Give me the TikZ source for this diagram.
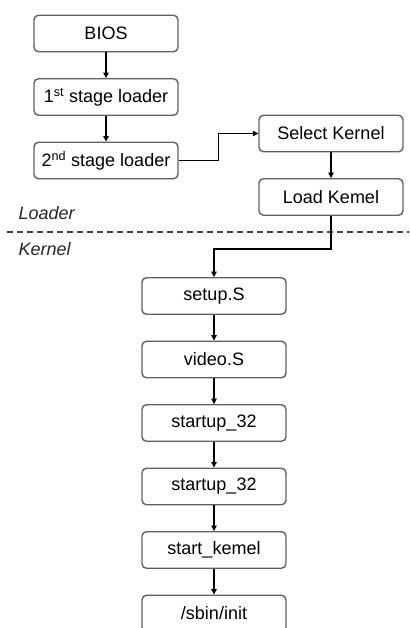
\documentclass[tikz,border=0pt]{standalone}
\usepackage{fontspec}
\setmainfont{Liberation Sans}
\usetikzlibrary{arrows.meta}
\begin{document}
\begin{tikzpicture}[x=1pt,y=-1pt,
  stage/.style={draw=black!62, line width=1.4pt, rounded corners=4.5pt, fill=white,
    minimum width=144pt, minimum height=36.5pt, inner sep=0pt,
    font=\fontsize{18}{21}\selectfont},
  flow/.style={draw=black, line width=1.2pt, -{Triangle[length=5.5pt,width=5.5pt]}},
  zone/.style={font=\fontsize{18}{21}\selectfont\itshape, anchor=west, text=black!85},
  divider/.style={draw=black!75, line width=1.1pt, dash pattern=on 6pt off 4pt}]
\clip (0,0) rectangle (409,628);
\fill[white] (0,0) rectangle (409,628);

% loader stage
\node[stage] (bios) at (106,33.5) {BIOS};
\node[stage] (first) at (106,97) {1\textsuperscript{st} stage loader};
\node[stage] (second) at (106,160.5) {2\textsuperscript{nd} stage loader};
\node[stage] (select) at (331,133.5) {Select Kernel};
\node[stage] (load) at (331,197) {Load Kemel};

% boundary between loader and kernel
\node[zone] (lloader) at (15,213) {Loader};
\node[zone] (lkernel) at (15,249) {Kernel};
\coordinate (dl) at (7,232);
\coordinate (dr) at (409,232);
\draw[divider] (dl) -- (dr);

% kernel stage
\node[stage] (setup) at (214,296) {setup.S};
\node[stage] (video) at (214,359.5) {video.S};
\node[stage] (st1) at (214,423) {startup\_32};
\node[stage] (st2) at (214,486.5) {startup\_32};
\node[stage] (skern) at (214,550) {start\_kemel};
\node[stage] (init) at (214,613.5) {/sbin/init};

% connectors
\draw[flow] (bios) -- (first);
\draw[flow] (first) -- (second);
\draw[flow] (second.east) -- ++(40,0) |- (select.west);
\draw[flow] (select) -- (load);
\draw[flow] (load.south) -- ++(0,33) -| (setup.north);
\draw[flow] (setup) -- (video);
\draw[flow] (video) -- (st1);
\draw[flow] (st1) -- (st2);
\draw[flow] (st2) -- (skern);
\draw[flow] (skern) -- (init);
\end{tikzpicture}
\end{document}
